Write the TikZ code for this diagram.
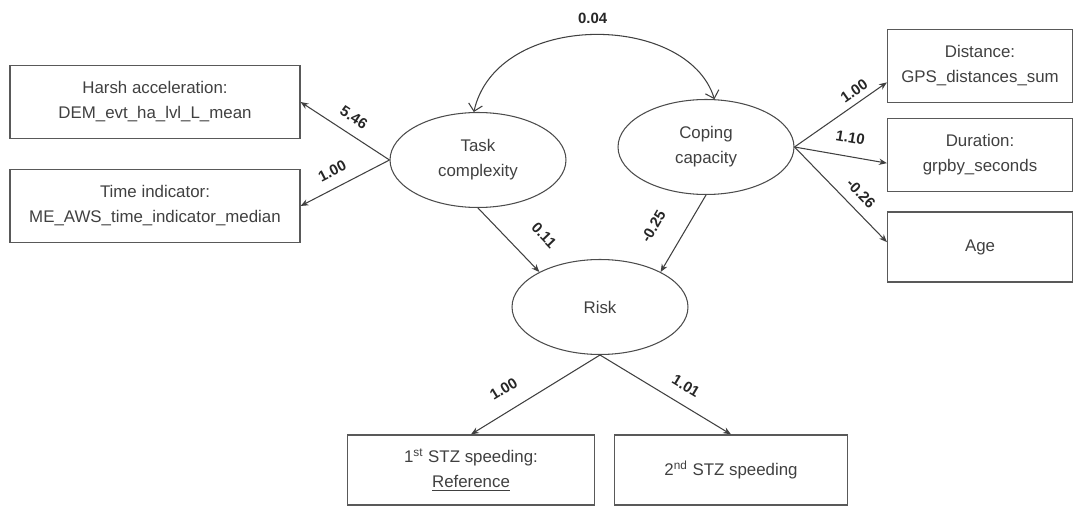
\documentclass[tikz,border=0pt]{standalone}
\usepackage{fontspec}
\setmainfont{Liberation Sans}
\usetikzlibrary{shapes.geometric,arrows.meta}

\begin{document}
\begin{tikzpicture}[x=0.02cm, y=-0.02cm, >={Stealth[length=4.5pt,width=3.6pt]},
    obs/.style={draw=black!65, line width=0.7pt, rectangle, inner sep=0pt, minimum height=1.46cm,
      align=center, text=black!75, font=\fontsize{9.6}{14.2}\selectfont},
    lat/.style={draw=black!70, line width=0.6pt, ellipse, inner sep=0pt, minimum width=3.52cm,
      minimum height=1.9cm, align=center, text=black!75, font=\fontsize{9.6}{14.2}\selectfont},
    load/.style={->, draw=black!75, line width=0.6pt},
    coef/.style={font=\bfseries\fontsize{8.5}{10}\selectfont, text=black!85, inner sep=1pt}]
    \useasboundingbox (0, 0) rectangle (1075, 506);

    % indicators of the two factors
    \node[obs, minimum width=5.8cm] (harsh) at (155, 102) {Harsh acceleration:\\DEM\_evt\_ha\_lvl\_L\_mean};
    \node[obs, minimum width=5.8cm] (time) at (155, 206) {Time indicator:\\ME\_AWS\_time\_indicator\_median};
    \node[obs, minimum width=3.7cm] (dist) at (980, 66) {Distance:\\GPS\_distances\_sum};
    \node[obs, minimum width=3.7cm] (dur) at (980, 155) {Duration:\\grpby\_seconds};
    \node[obs, minimum width=3.7cm, minimum height=1.4cm] (age) at (980, 247) {Age};

    % latent variables
    \node[lat] (task) at (478, 160) {Task\\complexity};
    \node[lat] (coping) at (706, 147) {Coping\\capacity};
    \node[lat] (risk) at (600, 307) {Risk};

    % outcome categories
    \node[obs, minimum width=4.94cm, minimum height=1.4cm] (first) at (471, 470) {1\textsuperscript{st} STZ speeding:\\\underline{Reference}};
    \node[obs, minimum width=4.66cm, minimum height=1.4cm] (second) at (731, 470) {2\textsuperscript{nd} STZ speeding};

    \draw[load] (task.west) -- node[coef, sloped, pos=0.5, above=5pt] {5.46} (harsh.east);
    \draw[load] (task.west) -- node[coef, sloped, pos=0.56, above=5pt] {1.00} (time.east);
    \draw[load] (coping.east) -- node[coef, sloped, pos=0.72, above=2.5pt] {1.00} (dist.190);
    \draw[load] (coping.east) -- node[coef, sloped, pos=0.57, above=6.4pt] {1.10} (dur.185);
    \draw[load] (coping.east) -- node[coef, sloped, pos=0.6, above=4.5pt] {-0.26} (age.177);

    \draw[load] (task.south) -- node[coef, sloped, pos=0.74, above=12pt] {0.11} (risk.150);
    \draw[load] (coping.south) -- node[coef, sloped, pos=0.6, above=12.5pt] {-0.25} (risk.30);

    \draw[load] (risk.south) -- node[coef, sloped, pos=0.66, above=8pt] {1.00} (first.north);
    \draw[load] (risk.south) -- node[coef, sloped, pos=0.585, above=6pt] {1.01} (second.north);

    \draw[{Straight Barb[length=4pt]}-{Straight Barb[length=4pt]}, draw=black!75, line width=0.6pt]
      (task.95) .. controls +(23, -102) and +(-27, -87) .. (coping.80)
      node[coef, pos=0.5, above=5pt] {0.04};
  \end{tikzpicture}
\end{document}
